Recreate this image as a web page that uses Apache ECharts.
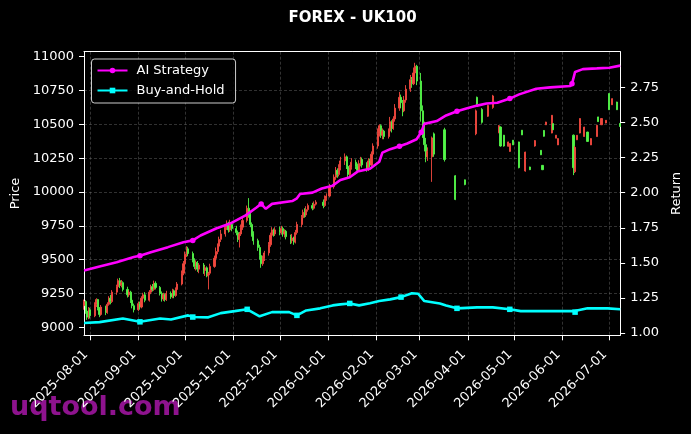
<!DOCTYPE html>
<html><head><meta charset="utf-8">
<script src="https://cdn.jsdelivr.net/npm/echarts@6/dist/echarts.min.js"></script>
<style>html,body{margin:0;padding:0;background:#000;}#c{width:691px;height:434px;}</style>
</head><body><div id="c"></div>
<script>
const startDate = '2025-07-28';
const endDate = '2026-07-08';
const priceTicks = [9000, 9250, 9500, 9750, 10000, 10250, 10500, 10750, 11000];
const returnTicks = [1.00, 1.25, 1.50, 1.75, 2.00, 2.25, 2.50, 2.75];
// [date, open, close, low, high]
const candles = [
['2025-07-28',9160,9190,9130,9205],['2025-07-29',9190,9120,9100,9200],['2025-07-30',9120,9075,9055,9140],['2025-07-31',9075,9130,9060,9150],['2025-08-01',9130,9085,9065,9145],
['2025-08-04',9085,9170,9075,9185],['2025-08-05',9170,9205,9150,9215],['2025-08-06',9205,9140,9125,9210],['2025-08-07',9140,9095,9075,9150],['2025-08-08',9095,9150,9085,9165],
['2025-08-11',9150,9110,9090,9160],['2025-08-12',9110,9170,9100,9185],['2025-08-13',9170,9215,9160,9230],['2025-08-14',9215,9190,9170,9240],['2025-08-15',9190,9260,9180,9275],
['2025-08-18',9260,9300,9240,9315],['2025-08-19',9300,9345,9285,9360],['2025-08-20',9345,9310,9290,9365],['2025-08-21',9310,9330,9295,9350],['2025-08-22',9330,9280,9265,9340],
['2025-08-25',9280,9240,9220,9300],['2025-08-26',9240,9260,9225,9275],['2025-08-27',9260,9200,9180,9270],['2025-08-28',9200,9160,9140,9215],['2025-08-29',9160,9130,9110,9175],
['2025-09-01',9130,9175,9120,9190],['2025-09-02',9175,9150,9130,9190],['2025-09-03',9150,9215,9140,9230],['2025-09-04',9215,9240,9200,9255],['2025-09-05',9240,9200,9185,9260],
['2025-09-08',9200,9260,9190,9275],['2025-09-09',9260,9300,9245,9315],['2025-09-10',9300,9280,9265,9320],['2025-09-11',9280,9325,9270,9345],['2025-09-12',9325,9295,9280,9340],
['2025-09-15',9295,9250,9235,9305],['2025-09-16',9250,9210,9190,9265],['2025-09-17',9210,9240,9195,9255],['2025-09-18',9240,9205,9190,9250],['2025-09-19',9205,9250,9195,9270],
['2025-09-22',9250,9225,9210,9265],['2025-09-23',9225,9270,9215,9285],['2025-09-24',9270,9235,9215,9280],['2025-09-25',9235,9280,9225,9295],['2025-09-26',9280,9320,9265,9335],
['2025-09-29',9320,9400,9310,9420],['2025-09-30',9400,9470,9385,9490],['2025-10-01',9470,9540,9450,9560],['2025-10-02',9540,9580,9520,9600],['2025-10-03',9580,9545,9525,9595],
['2025-10-06',9545,9500,9480,9560],['2025-10-07',9500,9450,9430,9510],['2025-10-08',9450,9480,9420,9495],['2025-10-09',9480,9430,9410,9490],['2025-10-10',9430,9460,9400,9475],
['2025-10-13',9460,9420,9395,9475],['2025-10-14',9420,9440,9380,9455],['2025-10-15',9440,9380,9370,9450],['2025-10-16',9380,9400,9280,9410],['2025-10-17',9400,9450,9385,9470],
['2025-10-20',9450,9510,9440,9530],['2025-10-21',9510,9560,9495,9590],['2025-10-22',9560,9600,9540,9620],['2025-10-23',9600,9650,9585,9670],['2025-10-24',9650,9690,9630,9720],
['2025-10-27',9690,9740,9670,9760],['2025-10-28',9740,9770,9720,9790],['2025-10-29',9770,9720,9700,9780],['2025-10-30',9720,9760,9705,9795],['2025-10-31',9760,9730,9710,9775],
['2025-11-03',9730,9700,9680,9750],['2025-11-04',9700,9650,9630,9715],['2025-11-05',9650,9690,9590,9705],['2025-11-06',9690,9740,9675,9760],['2025-11-07',9740,9790,9720,9810],
['2025-11-10',9790,9880,9775,9900],['2025-11-11',9880,9830,9810,9955],['2025-11-12',9830,9760,9740,9850],['2025-11-13',9760,9690,9670,9775],['2025-11-14',9690,9640,9610,9710],
['2025-11-17',9640,9590,9565,9655],['2025-11-18',9590,9530,9500,9610],['2025-11-19',9530,9470,9440,9550],['2025-11-20',9470,9510,9455,9530],['2025-11-21',9510,9550,9490,9565],
['2025-11-24',9550,9610,9530,9630],['2025-11-25',9610,9680,9595,9700],['2025-11-26',9680,9720,9660,9740],['2025-11-27',9720,9690,9670,9730],['2025-11-28',9690,9720,9675,9740],
['2025-12-01',9720,9700,9680,9745],['2025-12-02',9700,9730,9685,9750],['2025-12-03',9730,9690,9670,9745],['2025-12-04',9690,9710,9665,9725],['2025-12-05',9710,9670,9650,9720],
['2025-12-08',9670,9640,9615,9685],['2025-12-09',9640,9660,9620,9690],['2025-12-10',9660,9630,9610,9670],['2025-12-11',9630,9700,9620,9720],['2025-12-12',9700,9760,9685,9780],
['2025-12-15',9760,9810,9740,9830],['2025-12-16',9810,9850,9790,9870],['2025-12-17',9850,9830,9810,9880],['2025-12-18',9830,9870,9815,9895],['2025-12-19',9870,9900,9855,9915],
['2025-12-22',9900,9880,9865,9920],['2025-12-23',9880,9910,9870,9930],['2025-12-24',9910,9925,9900,9940],
['2025-12-29',9925,9900,9880,9945],['2025-12-30',9900,9950,9890,9975],['2025-12-31',9950,9970,9935,9990],['2026-01-02',9970,10040,9960,10060],
['2026-01-05',10040,10110,10025,10130],['2026-01-06',10110,10160,10090,10185],['2026-01-07',10160,10130,10105,10175],['2026-01-08',10130,10180,10115,10205],['2026-01-09',10180,10230,10160,10260],
['2026-01-12',10230,10260,10200,10285],['2026-01-13',10260,10190,10170,10270],['2026-01-14',10190,10130,10105,10200],['2026-01-15',10130,10180,10115,10200],['2026-01-16',10180,10220,10165,10250],
['2026-01-19',10220,10190,10170,10240],['2026-01-20',10190,10160,10140,10210],['2026-01-21',10160,10210,10150,10235],['2026-01-22',10210,10240,10190,10260],['2026-01-23',10240,10200,10180,10255],
['2026-01-26',10200,10170,10150,10220],['2026-01-27',10170,10230,10155,10250],['2026-01-28',10230,10200,10180,10245],['2026-01-29',10200,10280,10190,10300],['2026-01-30',10280,10340,10265,10360],
['2026-02-02',10340,10430,10320,10470],['2026-02-03',10430,10490,10410,10500],['2026-02-04',10490,10420,10400,10500],['2026-02-05',10420,10450,10390,10470],['2026-02-06',10450,10410,10390,10460],
['2026-02-09',10410,10450,10395,10470],['2026-02-10',10450,10520,10440,10555],['2026-02-11',10520,10470,10440,10530],['2026-02-12',10470,10540,10460,10560],['2026-02-13',10540,10620,10520,10650],
['2026-02-16',10620,10700,10600,10740],['2026-02-17',10700,10660,10620,10720],['2026-02-18',10660,10600,10560,10680],['2026-02-19',10600,10680,10590,10710],['2026-02-20',10680,10760,10660,10790],
['2026-02-23',10760,10830,10740,10865],['2026-02-24',10830,10800,10770,10850],['2026-02-25',10800,10880,10790,10920],['2026-02-26',10880,10930,10860,10955],['2026-02-27',10930,10820,10790,10940],
['2026-03-02',10820,10600,10520,10880],['2026-03-03',10600,10450,10400,10640],['2026-03-04',10450,10350,10300,10520],['2026-03-05',10350,10260,10220,10400],['2026-03-06',10260,10300,10230,10330],
['2026-03-09',10260,10400,10075,10410],['2026-03-10',10430,10280,10260,10440],['2026-03-17',10460,10240,10225,10475],['2026-03-24',10120,9945,9940,10125],['2026-03-30',10090,10055,10050,10092],
['2026-04-06',10430,10600,10420,10610],['2026-04-07',10700,10650,10640,10705],['2026-04-10',10610,10515,10505,10620],['2026-04-14',10560,10640,10555,10645],['2026-04-17',10625,10710,10615,10718],
['2026-04-21',10440,10490,10434,10495],['2026-04-22',10480,10340,10335,10485],['2026-04-24',10420,10340,10335,10422],['2026-04-27',10338,10370,10335,10372],['2026-04-28',10300,10358,10298,10360],
['2026-04-30',10383,10348,10347,10384],['2026-05-04',10370,10180,10175,10372],['2026-05-06',10457,10422,10421,10458],['2026-05-08',10155,10295,10150,10298],['2026-05-11',10185,10165,10162,10187],
['2026-05-14',10340,10380,10335,10384],['2026-05-18',10308,10275,10273,10310],['2026-05-19',10197,10165,10162,10199],['2026-05-20',10455,10412,10409,10458],['2026-05-21',10497,10517,10495,10519],
['2026-05-25',10436,10567,10434,10569],['2026-05-26',10505,10460,10458,10508],['2026-05-28',10398,10420,10397,10421],['2026-05-29',10348,10395,10347,10397],
['2026-06-08',10420,10180,10125,10425],['2026-06-09',10150,10330,10140,10340],['2026-06-10',10386,10419,10384,10421],['2026-06-12',10436,10543,10434,10545],['2026-06-15',10410,10480,10409,10482],
['2026-06-17',10443,10374,10372,10445],['2026-06-19',10348,10395,10347,10397],['2026-06-23',10410,10493,10409,10495],['2026-06-24',10555,10520,10519,10556],['2026-06-26',10497,10543,10495,10545],
['2026-06-29',10510,10530,10508,10532],['2026-07-01',10728,10608,10606,10729],['2026-07-03',10645,10690,10643,10692],['2026-07-06',10665,10608,10606,10667],['2026-07-08',10507,10484,10482,10508]
];
// [date, return, marker]
const aiStrategy = [
['2025-07-28',1.446],['2025-08-07',1.474],['2025-08-18',1.505],['2025-08-29',1.541],['2025-09-02',1.550,1],['2025-09-09',1.576],
['2025-09-20',1.612],['2025-09-30',1.647],['2025-10-06',1.660,1],['2025-10-11',1.695],['2025-10-21',1.745],['2025-10-30',1.780],
['2025-11-09',1.838],['2025-11-16',1.894],['2025-11-19',1.920,1],['2025-11-22',1.885],['2025-11-26',1.920],['2025-12-09',1.940],
['2025-12-12',1.960],['2025-12-14',1.990],['2025-12-22',2.000],['2025-12-28',2.030],['2026-01-04',2.050],['2026-01-09',2.090],
['2026-01-15',2.110],['2026-01-20',2.150],['2026-01-28',2.170],['2026-02-03',2.220],['2026-02-05',2.285],['2026-02-10',2.310],
['2026-02-16',2.330,1],['2026-02-21',2.350],['2026-02-27',2.380],['2026-03-02',2.430,1],['2026-03-04',2.490],['2026-03-12',2.510],
['2026-03-18',2.550],['2026-03-25',2.580,1],['2026-03-31',2.600],['2026-04-07',2.620],['2026-04-13',2.635],['2026-04-20',2.640],
['2026-04-28',2.670,1],['2026-05-04',2.700],['2026-05-15',2.740],['2026-05-24',2.750],['2026-06-06',2.760],['2026-06-07',2.775,1],
['2026-06-09',2.860],['2026-06-14',2.880],['2026-06-23',2.885],['2026-07-01',2.890],['2026-07-08',2.905]
];
const buyHold = [
['2025-07-28',1.072],['2025-08-07',1.078],['2025-08-22',1.104],['2025-09-02',1.080,1],['2025-09-15',1.104],['2025-09-22',1.097],
['2025-10-03',1.126],['2025-10-06',1.114,1],['2025-10-16',1.112],['2025-10-24',1.142],['2025-11-02',1.156],['2025-11-10',1.169,1],
['2025-11-18',1.119],['2025-11-26',1.149],['2025-12-07',1.149],['2025-12-12',1.126,1],['2025-12-18',1.161],['2025-12-27',1.176],
['2026-01-04',1.197],['2026-01-09',1.204],['2026-01-15',1.211,1],['2026-01-21',1.197],['2026-01-28',1.213],['2026-02-03',1.228],
['2026-02-10',1.240],['2026-02-17',1.256,1],['2026-02-24',1.284],['2026-02-28',1.280],['2026-03-04',1.228],['2026-03-14',1.211],
['2026-03-18',1.197],['2026-03-25',1.176,1],['2026-04-07',1.183],['2026-04-17',1.183],['2026-04-28',1.169,1],['2026-05-05',1.156],
['2026-05-17',1.156],['2026-06-08',1.156],['2026-06-09',1.149,1],['2026-06-17',1.176],['2026-06-30',1.176],['2026-07-08',1.169]
];

function buildDays(s, e) {
  const out = [];
  let t = Date.parse(s + 'T00:00:00Z');
  const end = Date.parse(e + 'T00:00:00Z');
  while (t <= end) { out.push(new Date(t).toISOString().slice(0, 10)); t += 86400000; }
  return out;
}
const days = buildDays(startDate, endDate);
const idx = {};
days.forEach((d, i) => { idx[d] = i; });
const candleData = days.map(() => '-');
candles.forEach(r => { candleData[idx[r[0]]] = [r[1], r[2], r[3], r[4]]; });
function lineData(pts) {
  const arr = days.map(() => null);
  pts.forEach(p => { arr[idx[p[0]]] = p[2] ? { value: p[1] } : { value: p[1], symbol: 'none' }; });
  return arr;
}
const isMonthStart = (i, v) => String(v).slice(8) === '01';
const F = 'DejaVu Sans';
const gridLine = { color: 'rgba(140,140,140,0.5)', type: [3, 2], width: 0.7 };

const chart = echarts.init(document.getElementById('c'));
chart.setOption({
  backgroundColor: '#000',
  animation: false,
  textStyle: { fontFamily: F },
  graphic: [
    { type: 'text', x: 352.5, y: 18, style: { text: 'FOREX - UK100', fill: '#fff', font: 'bold 15px "DejaVu Sans"', align: 'center', verticalAlign: 'middle' }, z: 10 },
    { type: 'text', x: 10, y: 408, style: { text: 'uqtool.com', fill: '#8e138e', font: 'bold 27px "DejaVu Sans"', align: 'left', verticalAlign: 'middle' }, z: -10 }
  ],
  legend: {
    orient: 'vertical', left: 91.5, top: 59,
    padding: [5, 11, 6, 5], itemGap: 7, itemWidth: 30, itemHeight: 7,
    backgroundColor: 'rgba(0,0,0,0.8)', borderColor: 'rgba(255,255,255,0.8)', borderWidth: 1, borderRadius: 3,
    textStyle: { color: '#fff', fontSize: 13, fontFamily: F, padding: [0, 0, 0, 4] },
    data: ['AI Strategy', 'Buy-and-Hold']
  },
  grid: { left: 84, right: 69.3, top: 51.7, bottom: 98.7 },
  xAxis: [
    {
      type: 'category', data: days, boundaryGap: false,
      axisLine: { onZero: false, lineStyle: { color: '#fff', width: 1 } },
      axisTick: { interval: isMonthStart, length: 5, lineStyle: { color: '#fff' } },
      axisLabel: { interval: isMonthStart, rotate: 45, color: '#fff', fontSize: 13, fontFamily: F, margin: 13, padding: [0, 6, 0, 0] },
      splitLine: { show: true, interval: isMonthStart, lineStyle: gridLine }
    },
    {
      type: 'category', data: days, boundaryGap: false, position: 'top',
      axisLine: { onZero: false, lineStyle: { color: '#fff', width: 1 } },
      axisTick: { show: false }, axisLabel: { show: false }, splitLine: { show: false }
    }
  ],
  yAxis: [
    {
      type: 'value', position: 'left', min: 8941, max: 11037, minInterval: 250, maxInterval: 250,
      name: 'Price', nameLocation: 'middle', nameGap: 55, nameRotate: 90,
      nameTextStyle: { color: '#fff', fontSize: 13, fontFamily: F },
      axisLine: { show: true, lineStyle: { color: '#fff', width: 1 } },
      axisTick: { show: true, length: 5, lineStyle: { color: '#fff' }, customValues: priceTicks },
      axisLabel: { color: '#fff', fontSize: 13, fontFamily: F, margin: 10, customValues: priceTicks, formatter: v => String(v) },
      splitLine: { show: true, showMinLine: false, showMaxLine: false, lineStyle: gridLine }
    },
    {
      type: 'value', position: 'right', min: 0.984, max: 3.004, minInterval: 0.25, maxInterval: 0.25,
      name: 'Return', nameLocation: 'middle', nameGap: 43, nameRotate: 90,
      nameTextStyle: { color: '#fff', fontSize: 13, fontFamily: F },
      axisLine: { show: true, lineStyle: { color: '#fff', width: 1 } },
      axisTick: { show: true, length: 5, lineStyle: { color: '#fff' }, customValues: returnTicks },
      axisLabel: { color: '#fff', fontSize: 13, fontFamily: F, margin: 10, customValues: returnTicks, formatter: v => Number(v).toFixed(2) },
      splitLine: { show: false }
    }
  ],
  series: [
    {
      type: 'candlestick', name: 'Price', xAxisIndex: 0, yAxisIndex: 0, data: candleData,
      barWidth: 1.6,
      itemStyle: { color: '#f2483e', color0: '#52f548', borderColor: '#f2483e', borderColor0: '#52f548', borderWidth: 0.9 }
    },
    {
      type: 'line', name: 'AI Strategy', xAxisIndex: 0, yAxisIndex: 1, data: lineData(aiStrategy), connectNulls: true,
      symbol: 'circle', symbolSize: 5.5, showSymbol: true, showAllSymbol: true,
      lineStyle: { color: '#ff00ff', width: 2.6 }, itemStyle: { color: '#ff00ff' }, z: 3
    },
    {
      type: 'line', name: 'Buy-and-Hold', xAxisIndex: 0, yAxisIndex: 1, data: lineData(buyHold), connectNulls: true,
      symbol: 'rect', symbolSize: 5.5, showSymbol: true, showAllSymbol: true,
      lineStyle: { color: '#00ffff', width: 2.6 }, itemStyle: { color: '#00ffff' }, z: 3
    }
  ]
});
</script>
</body></html>
